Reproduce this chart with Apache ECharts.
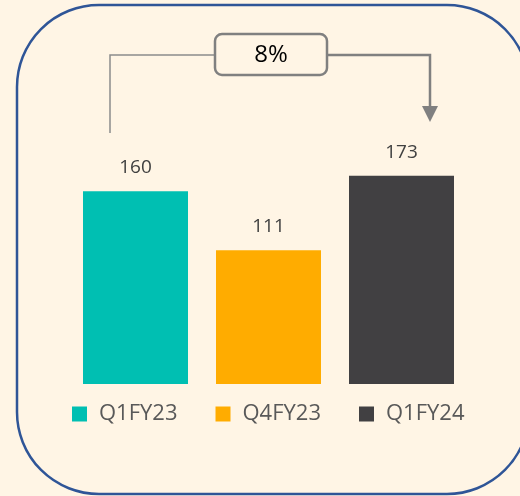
<!DOCTYPE html>
<html>
<head>
<meta charset="utf-8">
<script src="https://cdn.jsdelivr.net/npm/echarts@6/dist/echarts.min.js"></script>
<style>
    html, body { margin: 0; padding: 0; background: #fff5e5; }
    #chart { width: 520px; height: 496px; }
</style>
</head>
<body>
<div id="chart"></div>
<script>
// 数据
var periods = ['Q1FY23', 'Q4FY23', 'Q1FY24'];
var values = [160, 111, 173];
var colors = ['#00bfb2', '#ffac00', '#414042'];
var growthLabel = '8%';

var chart = echarts.init(document.getElementById('chart'));

// one series per period so the legend gets a colored square each
var series = periods.map(function (name, i) {
    var d = values.map(function (v, j) { return j === i ? v : '-'; });
    return {
        name: name,
        type: 'bar',
        data: d,
        barWidth: 105,
        barGap: '-100%',
        itemStyle: { color: colors[i] },
        label: {
            show: true,
            position: 'top',
            distance: 14,
            fontFamily: 'Open Sans',
            fontSize: 19,
            color: '#404040'
        }
    };
});

var option = {
    backgroundColor: '#fff5e5',
    animation: false,
    grid: { left: 69, right: 52, top: 83, bottom: 112 },
    xAxis: {
        type: 'category',
        data: periods,
        show: false
    },
    yAxis: {
        type: 'value',
        min: 0,
        max: 250,
        show: false
    },
    legend: {
        bottom: 71,
        left: 72,
        padding: 0,
        icon: 'rect',
        itemWidth: 15,
        itemHeight: 15,
        itemGap: 38,
        data: periods,
        textStyle: {
            fontFamily: 'Open Sans',
            fontSize: 22,
            color: '#595959',
            padding: [0, 0, 0, 7]
        }
    },
    graphic: [
        {
            type: 'rect',
            shape: { x: 17, y: 5, width: 512, height: 489, r: 82 },
            style: { fill: 'none', stroke: '#2f5597', lineWidth: 2.5 },
            z: 1
        },
        {
            type: 'polyline',
            shape: { points: [[110, 133], [110, 55], [215, 55]] },
            style: { stroke: '#8c8c8c', lineWidth: 1.5, fill: 'none' }
        },
        {
            type: 'polyline',
            shape: { points: [[327, 55], [430, 55], [430, 108]] },
            style: { stroke: '#808080', lineWidth: 2.5, fill: 'none' }
        },
        {
            type: 'polygon',
            shape: { points: [[422, 106], [438, 106], [430, 122]] },
            style: { fill: '#808080' }
        },
        {
            type: 'rect',
            shape: { x: 215, y: 34, width: 112, height: 41, r: 7 },
            style: { fill: '#fff5e5', stroke: '#808080', lineWidth: 2.5 }
        },
        {
            type: 'text',
            x: 271,
            y: 55,
            style: {
                text: growthLabel,
                fontFamily: 'Open Sans',
                fontSize: 24,
                fill: '#000',
                align: 'center',
                verticalAlign: 'middle'
            }
        }
    ],
    series: series
};

chart.setOption(option);
</script>
</body>
</html>
